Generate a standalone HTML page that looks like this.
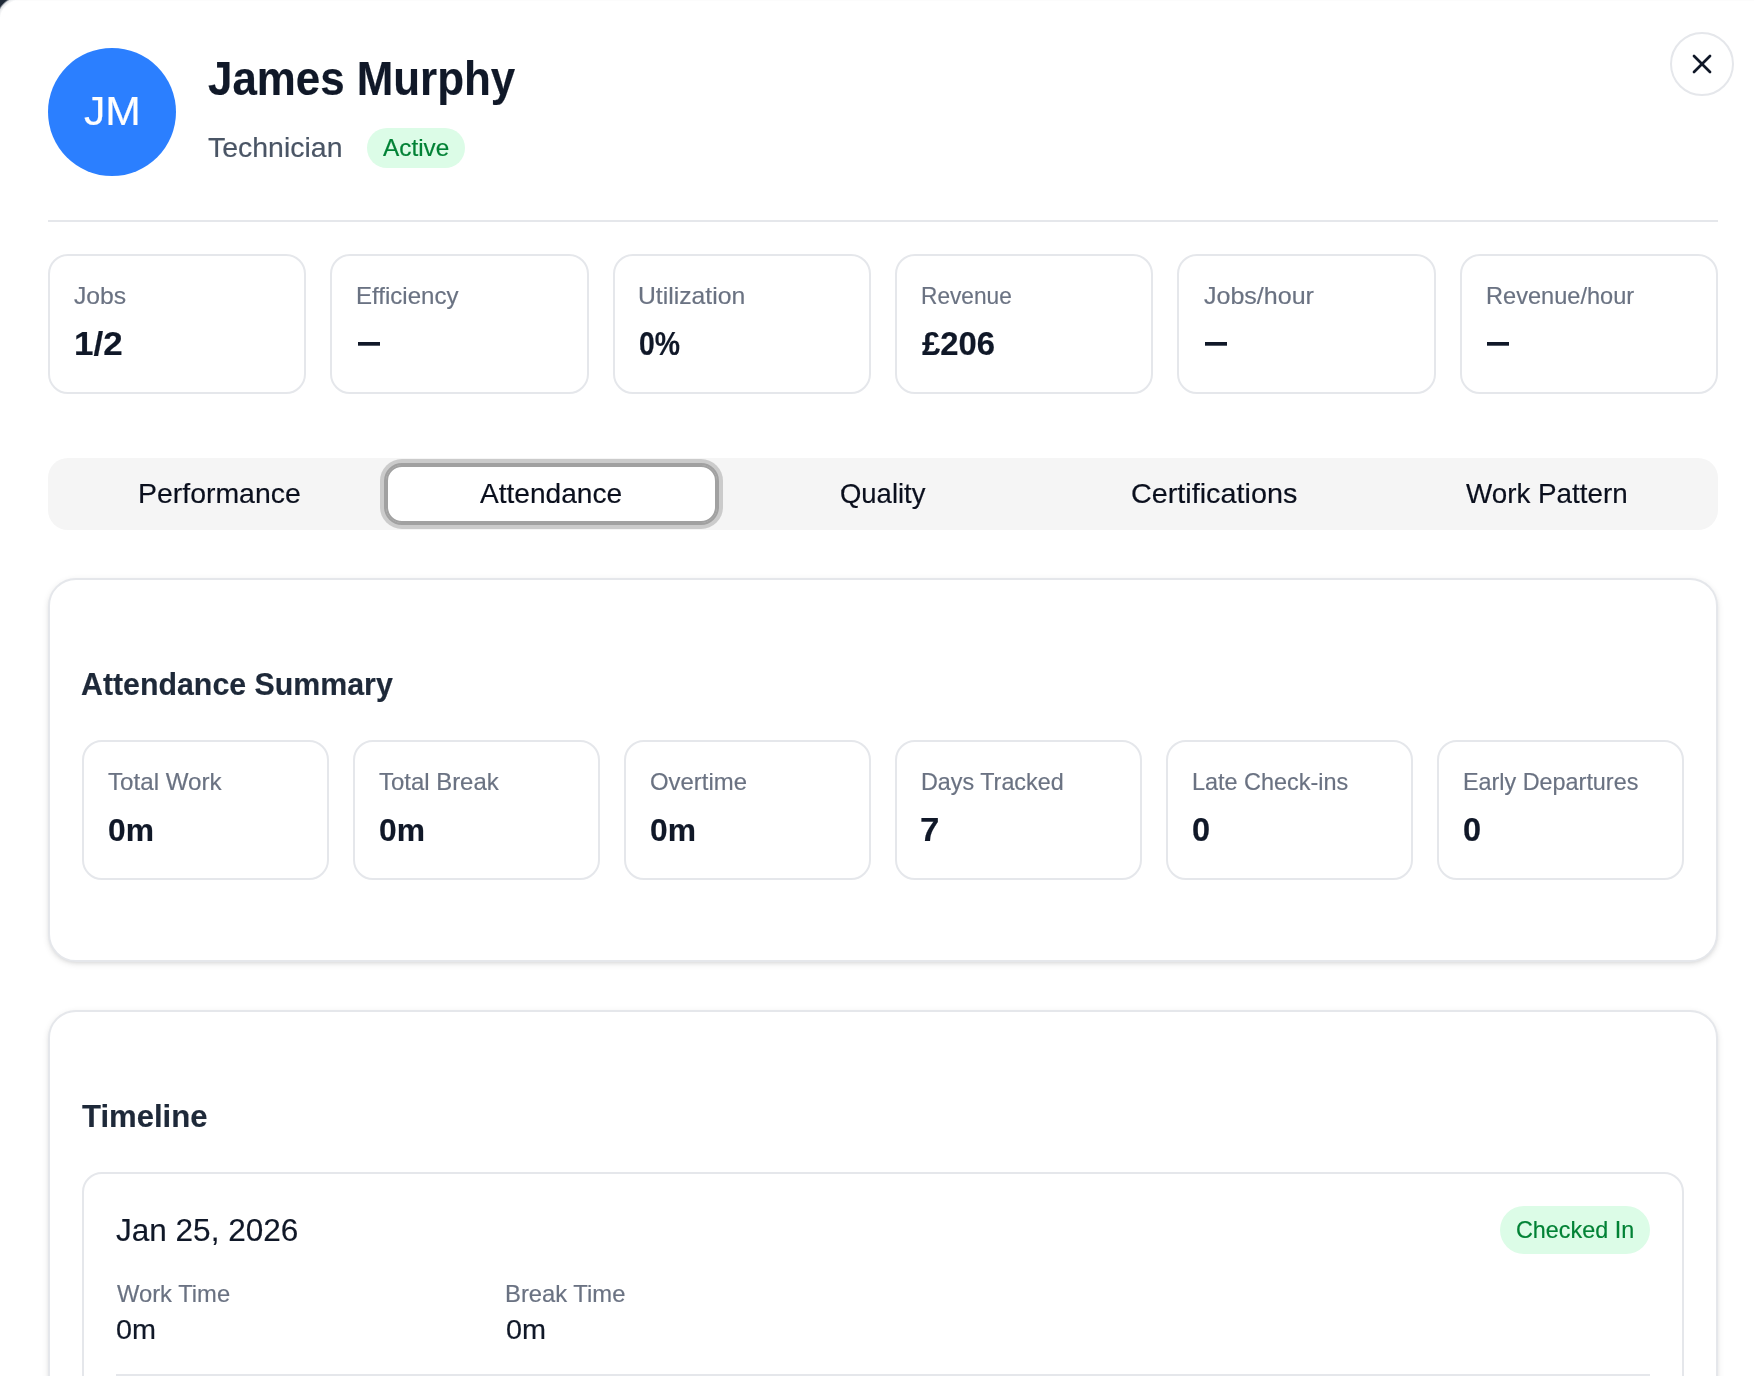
<!DOCTYPE html>
<html lang="en">
<head>
<meta charset="utf-8">
<title>James Murphy</title>
<style>
*{box-sizing:border-box;margin:0;padding:0}
html,body{width:1754px;height:1376px;overflow:hidden}
body{background:#1f2937;font-family:"Liberation Sans",sans-serif;color:#101828;position:relative}
.modal{position:absolute;left:0;top:0;width:1754px;height:1376px;background:#fff}
.corner{position:absolute;left:0;top:0;width:21px;height:21px;background:radial-gradient(circle at 20.7px 20.7px,#fff 20.5px,#e4e6e9 23.2px,#1f2937 25px)}
.abs{position:absolute}
.t{position:absolute;white-space:nowrap;line-height:1;transform-origin:0 0;-webkit-text-stroke:.18px currentColor}
.txt{position:absolute;left:0;top:0;width:1754px;height:1376px;will-change:transform;opacity:.999}
.avatar{left:48px;top:48px;width:128px;height:128px;border-radius:50%;background:#2b7fff}
.close{left:1670px;top:32px;width:64px;height:64px;border-radius:50%;border:2px solid #e5e7eb;background:#fff}
.divider{left:48px;top:220px;width:1670px;height:2px;background:#e5e7eb}
.badge{position:absolute;background:#dcfce7;border-radius:999px}
.box{position:absolute;border:2px solid #e5e7eb;border-radius:20px;background:#fff}
.tablist{left:48px;top:458px;width:1670px;height:72px;border-radius:20px;background:#f5f5f5}
.tabon{position:absolute;background:#fff;border:2px solid #a1a1a1;border-radius:16px;outline:2px solid #a1a1a1;box-shadow:0 0 0 6px rgba(161,161,161,.5)}
.card{position:absolute;left:48px;width:1670px;border:2px solid #e5e7eb;border-radius:28px;background:#fff;box-shadow:0 2px 6px rgba(0,0,0,.1),0 2px 4px -2px rgba(0,0,0,.1)}
</style>
</head>
<body>
<div class="modal"></div>
<div class="corner"></div>
<div class="abs" style="left:16px;top:0;width:1738px;height:1px;background:#fcfcfc"></div>
<div class="abs avatar"></div>
<div class="badge" style="left:367px;top:128px;width:98px;height:40px"></div>
<div class="abs close"><svg class="abs" style="left:14px;top:14px" width="32" height="32" viewBox="0 0 24 24" fill="none" stroke="#101828" stroke-width="2" stroke-linecap="round" stroke-linejoin="round"><path d="M18 6 6 18"/><path d="m6 6 12 12"/></svg></div>
<div class="abs divider"></div>
<div class="box" style="left:48px;top:254px;width:258px;height:140px"></div><div class="box" style="left:330px;top:254px;width:259px;height:140px"></div><div class="box" style="left:613px;top:254px;width:258px;height:140px"></div><div class="box" style="left:895px;top:254px;width:258px;height:140px"></div><div class="box" style="left:1177px;top:254px;width:259px;height:140px"></div><div class="box" style="left:1460px;top:254px;width:258px;height:140px"></div>
<div class="abs" style="left:358px;top:342px;width:21.5px;height:4px;background:linear-gradient(#101828 0 3px,rgba(16,24,40,.7) 3px)"></div><div class="abs" style="left:1204.5px;top:342px;width:22.0px;height:4px;background:linear-gradient(#101828 0 3px,rgba(16,24,40,.7) 3px)"></div><div class="abs" style="left:1487px;top:342px;width:22px;height:4px;background:linear-gradient(#101828 0 3px,rgba(16,24,40,.7) 3px)"></div>
<div class="abs tablist"></div>
<div class="tabon" style="left:385.6px;top:465px;width:331.6px;height:58px"></div>
<div class="card" style="top:578px;height:384px"></div>
<div class="box" style="left:82px;top:740px;width:247px;height:140px"></div><div class="box" style="left:353px;top:740px;width:247px;height:140px"></div><div class="box" style="left:624px;top:740px;width:247px;height:140px"></div><div class="box" style="left:895px;top:740px;width:247px;height:140px"></div><div class="box" style="left:1166px;top:740px;width:247px;height:140px"></div><div class="box" style="left:1437px;top:740px;width:247px;height:140px"></div>
<div class="card" style="top:1010px;height:600px"></div>
<div class="box" style="left:82px;top:1172px;width:1602px;height:400px"></div>
<div class="badge" style="left:1500px;top:1206px;width:150px;height:48px"></div>
<div class="abs" style="left:116px;top:1374px;width:1534px;height:2px;background:#e5e7eb"></div>
<div class="txt">
<div class="t" id="jm" style="left:83.69px;top:91px;font-size:40px;font-weight:400;color:#fff;transform:scale(1.0659,1.03);transform-origin:0 34px">JM</div>
<div class="t" id="name" style="left:208.05px;top:55px;font-size:48px;font-weight:700;color:#101828;transform:scaleX(0.9137)">James Murphy</div>
<div class="t" id="role" style="left:208.46px;top:134px;font-size:28px;font-weight:400;color:#4a5565;transform:scaleX(1.0163)">Technician</div>
<div class="t" id="active" style="left:382.78px;top:136px;font-size:24px;font-weight:400;color:#008236;transform:scaleX(1.0144)">Active</div>
<div class="t" id="l1" style="left:74.31px;top:284px;font-size:24px;font-weight:400;color:#6a7282;transform:scaleX(1.0291)">Jobs</div>
<div class="t" id="l2" style="left:356.20px;top:284px;font-size:24px;font-weight:400;color:#6a7282;transform:scaleX(1.0015)">Efficiency</div>
<div class="t" id="l3" style="left:638.41px;top:284px;font-size:24px;font-weight:400;color:#6a7282;transform:scaleX(1.0299)">Utilization</div>
<div class="t" id="l4" style="left:921.27px;top:284px;font-size:24px;font-weight:400;color:#6a7282;transform:scaleX(0.9448)">Revenue</div>
<div class="t" id="l5" style="left:1204.00px;top:284px;font-size:24px;font-weight:400;color:#6a7282;transform:scaleX(1.0426)">Jobs/hour</div>
<div class="t" id="l6" style="left:1486.20px;top:284px;font-size:24px;font-weight:400;color:#6a7282;transform:scaleX(0.9829)">Revenue/hour</div>
<div class="t" id="v1" style="left:74.49px;top:328px;font-size:32px;font-weight:700;color:#101828;transform:scale(1.0930,1.03);transform-origin:0 27px">1/2</div>
<div class="t" id="v3" style="left:638.98px;top:328px;font-size:32px;font-weight:700;color:#101828;transform:scale(0.8865,1.03);transform-origin:0 27px">0%</div>
<div class="t" id="v4" style="left:922.27px;top:328px;font-size:32px;font-weight:700;color:#101828;transform:scale(1.0250,1.03);transform-origin:0 27px">£206</div>
<div class="t" id="h1" style="left:81.46px;top:668px;font-size:32px;font-weight:700;color:#1e2939;transform:scaleX(0.9476)">Attendance Summary</div>
<div class="t" id="a1" style="left:108.49px;top:770px;font-size:24px;font-weight:400;color:#6a7282;transform:scaleX(1.0058)">Total Work</div>
<div class="t" id="a2" style="left:379.13px;top:770px;font-size:24px;font-weight:400;color:#6a7282;transform:scaleX(0.9968)">Total Break</div>
<div class="t" id="a3" style="left:650.39px;top:770px;font-size:24px;font-weight:400;color:#6a7282;transform:scaleX(0.9964)">Overtime</div>
<div class="t" id="a4" style="left:920.97px;top:770px;font-size:24px;font-weight:400;color:#6a7282;transform:scaleX(0.9724)">Days Tracked</div>
<div class="t" id="a5" style="left:1192.28px;top:770px;font-size:24px;font-weight:400;color:#6a7282;transform:scaleX(0.9762)">Late Check-ins</div>
<div class="t" id="a6" style="left:1463.47px;top:770px;font-size:24px;font-weight:400;color:#6a7282;transform:scaleX(0.9737)">Early Departures</div>
<div class="t" id="b1" style="left:108.02px;top:814px;font-size:32px;font-weight:700;color:#101828;transform:scaleX(0.9936)">0m</div>
<div class="t" id="b2" style="left:379.02px;top:814px;font-size:32px;font-weight:700;color:#101828;transform:scaleX(0.9936)">0m</div>
<div class="t" id="b3" style="left:650.02px;top:814px;font-size:32px;font-weight:700;color:#101828;transform:scaleX(0.9936)">0m</div>
<div class="t" id="b4" style="left:920.15px;top:814px;font-size:32px;font-weight:700;color:#101828;transform:scale(1.0880,1.03);transform-origin:0 27px">7</div>
<div class="t" id="b5" style="left:1192.12px;top:814px;font-size:32px;font-weight:700;color:#101828;transform:scale(1.0154,1.03);transform-origin:0 27px">0</div>
<div class="t" id="b6" style="left:1463.12px;top:814px;font-size:32px;font-weight:700;color:#101828;transform:scale(1.0154,1.03);transform-origin:0 27px">0</div>
<div class="t" id="h2" style="left:82.37px;top:1100px;font-size:32px;font-weight:700;color:#1e2939;transform:scaleX(0.9712)">Timeline</div>
<div class="t" id="date" style="left:116.36px;top:1214px;font-size:32px;font-weight:400;color:#101828;transform:scaleX(0.9849)">Jan 25, 2026</div>
<div class="t" id="chk" style="left:1516.27px;top:1218px;font-size:24px;font-weight:400;color:#008236;transform:scaleX(0.9729)">Checked In</div>
<div class="t" id="wt" style="left:117.22px;top:1282px;font-size:24px;font-weight:400;color:#6a7282;transform:scaleX(0.9900)">Work Time</div>
<div class="t" id="wv" style="left:116.21px;top:1316px;font-size:28px;font-weight:400;color:#101828;transform:scaleX(1.0271)">0m</div>
<div class="t" id="bt" style="left:505.15px;top:1282px;font-size:24px;font-weight:400;color:#6a7282;transform:scaleX(0.9919)">Break Time</div>
<div class="t" id="bv" style="left:505.73px;top:1316px;font-size:28px;font-weight:400;color:#101828;transform:scaleX(1.0282)">0m</div>
<div class="t" id="tb1" style="left:138.36px;top:480px;font-size:28px;font-weight:400;color:#0a0f1d;transform:scaleX(1.0154)">Performance</div>
<div class="t" id="tb2" style="left:480.37px;top:480px;font-size:28px;font-weight:400;color:#0a0f1d;transform:scaleX(1.0026)">Attendance</div>
<div class="t" id="tb3" style="left:840.35px;top:480px;font-size:28px;font-weight:400;color:#0a0f1d;transform:scaleX(0.9802)">Quality</div>
<div class="t" id="tb4" style="left:1131.25px;top:480px;font-size:28px;font-weight:400;color:#0a0f1d;transform:scaleX(1.0274)">Certifications</div>
<div class="t" id="tb5" style="left:1466.46px;top:480px;font-size:28px;font-weight:400;color:#0a0f1d;transform:scaleX(0.9922)">Work Pattern</div>
</div>
</body>
</html>
